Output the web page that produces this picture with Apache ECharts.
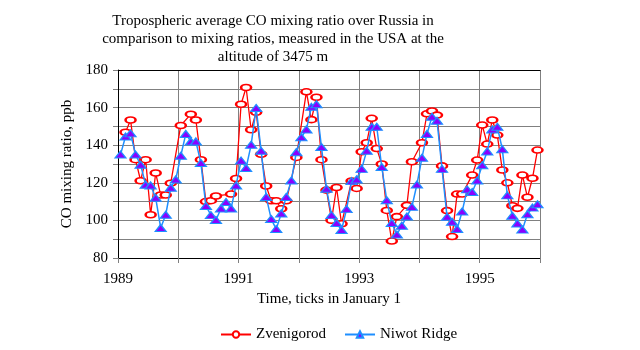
<!DOCTYPE html>
<html>
<head>
<meta charset="utf-8">
<script src="https://cdn.jsdelivr.net/npm/echarts@6/dist/echarts.min.js"></script>
<style>
  html, body { margin: 0; padding: 0; background: #fff; }
  #chart { width: 640px; height: 350px; }
</style>
</head>
<body>
<div id="chart"></div>
<script>
// monthly values, Jan 1989 .. Dec 1995 (null = no measurement)
const startYear = 1989;
const zvenigorod = [
  null, 146.9, 153.4, 132.3, 121.1, 132.3, 103, 125.2, 113.5, 113.5, 119.8, null,
  150.5, null, 156.5, 153.4, 132.3, 110, 110.5, 113, null, null, 114, 122.3,
  161.8, 170.7, 148.2, 157.5, 135.2, 118.3, 110.4, 110.4, 106.2, 110.4, null, 133.5,
  null, 168.4, 153.6, 165.5, 132.3, 116.1, 100.1, 117.5, 98.2, null, 121, 117,
  136.5, 141.3, 154.3, 138.2, 130, 105.3, 89, 102, null, 108, 131.2, null,
  141.3, 156.7, 158.2, 156, 129, 105.2, 91.4, 114, 114, null, 124.1, 132.1,
  150.7, 140.6, 153.4, 145.4, 126.8, 120, 107.8, 106.4, 124.1, 112.3, 122.4, 137.4
];
const niwotRidge = [
  135, 144.6, 146.3, 135, 129.6, 119, 118.6, 112, 96, 103, 117.4, 121.8,
  134.4, 146, 142, 142, 130.5, 107.7, 102.8, 100.2, 106.3, 109.8, 106.3, 118.6,
  131.8, 127.9, 140.2, 159.8, 137, 112.5, 100.7, 95.4, 103.7, 112.5, 121.2, 136.3,
  144.2, 148.4, 160.4, 161.8, 139, 116.8, 102.8, 98.6, 94.9, 106, 120.9, 121.8,
  127.4, 137, 149.8, 149.8, 128.4, 110.7, 98.6, 92.5, 97.2, 102.1, 107.2, 119.1,
  133.3, 146, 155.1, 153, 127.4, 101.9, 99.3, 95.4, 104.7, 116.5, 115.1, 121.2,
  129.3, 136.7, 148.4, 149.8, 137.9, 113.3, 102.5, 98.4, 95.1, 103.3, 106.8, 108.6
];
const yearTicks = [1989, 1991, 1993, 1995];
const yTicks = [80, 100, 120, 140, 160, 180];

// month k -> middle of that month, in years
function toPoints(arr) {
  return arr.map((v, k) => [startYear + (k + 0.5) / 12, v]);
}

const serif = '"Liberation Serif", "Times New Roman", serif';
const chart = echarts.init(document.getElementById('chart'), null, { renderer: 'canvas' });

const option = {
  backgroundColor: '#fff',
  animation: false,
  textStyle: { fontFamily: serif },
  title: {
    text: 'Tropospheric average CO mixing ratio over Russia in\ncomparison to mixing ratios, measured in the USA at the\naltitude of 3475 m',
    left: 268,
    top: 7,
    textAlign: 'center',
    textStyle: { fontFamily: serif, fontSize: 15, fontWeight: 'normal', color: '#000', lineHeight: 18 }
  },
  legend: {
    left: 215,
    top: 322,
    itemWidth: 30,
    itemHeight: 8,
    itemGap: 18,
    formatter: '{s|{name}}',
    textStyle: {
      fontFamily: serif, fontSize: 15, color: '#000',
      rich: { s: { fontFamily: 'Liberation Serif', fontSize: 15, color: '#000' } }
    },
    data: ['Zvenigorod', 'Niwot Ridge']
  },
  grid: { left: 118, right: 100, top: 70, bottom: 92 },
  xAxis: [{
    type: 'value',
    min: 1989,
    max: 1996,
    interval: 1,
    name: 'Time, ticks in January 1',
    nameLocation: 'middle',
    nameGap: 34,
    nameTextStyle: { fontFamily: serif, fontSize: 15, color: '#000' },
    axisLine: { lineStyle: { color: '#000', width: 1 } },
    axisTick: { show: true, length: 5, lineStyle: { color: '#808080' } },
    axisLabel: {
      margin: 14,
      fontFamily: serif, fontSize: 15, color: '#000',
      formatter: v => yearTicks.indexOf(v) >= 0 ? String(v) : ''
    },
    splitLine: { show: true, lineStyle: { color: '#808080', width: 1 } }
  }, {
    type: 'value',
    position: 'top',
    min: 1989,
    max: 1996,
    axisLine: { show: true, lineStyle: { color: '#000', width: 1 } },
    axisTick: { show: false },
    axisLabel: { show: false },
    splitLine: { show: false }
  }],
  yAxis: {
    type: 'value',
    min: 80,
    max: 180,
    interval: 10,
    name: 'CO mixing ratio, ppb',
    nameLocation: 'middle',
    nameGap: 33,
    nameTextStyle: { fontFamily: serif, fontSize: 15, color: '#000' },
    axisLine: { show: true, lineStyle: { color: '#000', width: 1 } },
    axisTick: { show: true, length: 5, lineStyle: { color: '#808080' } },
    axisLabel: {
      margin: 10,
      fontFamily: serif, fontSize: 15, color: '#000',
      formatter: v => yTicks.indexOf(v) >= 0 ? String(v) : ''
    },
    splitLine: { show: true, lineStyle: { color: '#808080', width: 1 } }
  },
  series: [
    {
      name: 'Zvenigorod',
      type: 'line',
      data: toPoints(zvenigorod),
      connectNulls: true,
      symbol: 'emptyCircle',
      symbolSize: [10, 6],
      showAllSymbol: true,
      lineStyle: { color: '#ff0000', width: 1.3 },
      itemStyle: { color: '#ff0000', borderColor: '#ff0000', borderWidth: 1.2 },
      z: 2
    },
    {
      name: 'Niwot Ridge',
      type: 'line',
      data: toPoints(niwotRidge),
      symbol: 'triangle',
      symbolSize: [11, 7],
      showAllSymbol: true,
      lineStyle: { color: '#1e8fff', width: 1.5 },
      itemStyle: { color: '#8a00ff', borderColor: '#1e8fff', borderWidth: 1.2 },
      z: 3
    }
  ]
};

chart.setOption(option);
</script>
</body>
</html>
